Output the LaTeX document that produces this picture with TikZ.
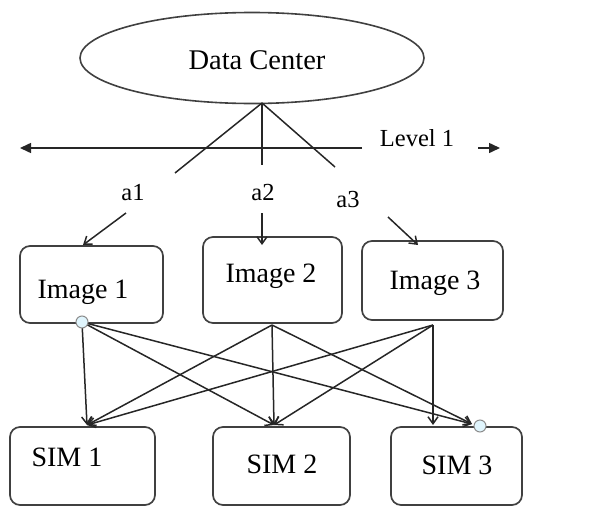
\documentclass[tikz,border=0pt]{standalone}
\usepackage{fontspec}
\setmainfont{Liberation Serif}
\usetikzlibrary{arrows.meta,shapes.geometric}
\begin{document}
\begin{tikzpicture}[x=1pt,y=-1pt,
  line width=1.5pt,
  box/.style={draw=black!75,line width=1.7pt,rounded corners=10pt,minimum width=#1},
  lbl/.style={font=\fontsize{28}{31}\selectfont,inner sep=0pt},
  big/.style={font=\fontsize{28.5}{31}\selectfont,inner sep=0pt},
  small/.style={font=\fontsize{24.5}{27}\selectfont,inner sep=0pt},
  wire/.style={draw=black!85,line width=1.5pt},
  arr/.style={wire,-{Straight Barb[length=7pt,width=10pt]}},
  dot/.style={circle,draw=black!45,fill=cyan!12,line width=1pt,minimum size=12pt,inner sep=0pt}]
\useasboundingbox (0,0) rectangle (599,506);

% data centre
\node[ellipse,draw=black!75,line width=1.6pt,minimum width=344pt,minimum height=91pt] (dc) at (252,58) {};
\node[big] (dct) at (257,60) {Data Center};
\coordinate (root) at (262,103);

% level axis
\coordinate (lvR) at (362,148);
\coordinate (lvL) at (20,148);
\draw[wire,-{Triangle[length=11pt,width=10pt]}] (lvR) -- (lvL);
\node[small] (lv) at (417,138) {Level 1};
\coordinate (raS) at (478,148);
\coordinate (raE) at (500,148);
\draw[wire,-{Triangle[length=11pt,width=10pt]}] (raS) -- (raE);

% branches
\coordinate (b1) at (175,173);
\coordinate (b2) at (262,165);
\coordinate (b3) at (335,167);
\draw[wire] (root) -- (b1);
\draw[wire] (root) -- (b2);
\draw[wire] (root) -- (b3);

\node[small] (a1) at (133,193) {a1};
\node[small] (a2) at (263,193) {a2};
\node[small] (a3) at (348,200) {a3};

% image boxes
\node[box=143pt,minimum height=77pt] (img1) at (91.5,284.5) {};
\node[box=139pt,minimum height=86pt] (img2) at (272.5,280) {};
\node[box=141pt,minimum height=79pt] (img3) at (432.5,280.5) {};
\node[lbl] (t1) at (83,292) {Image 1};
\node[lbl] (t2) at (271,276) {Image 2};
\node[lbl] (t3) at (435,283) {Image 3};

% arrows from the labels
\coordinate (p1) at (126,213);
\coordinate (q1) at (83,245);
\coordinate (p2) at (262,213);
\coordinate (q2) at (262,245);
\coordinate (p3) at (388,217);
\coordinate (q3) at (418,245);
\draw[arr] (p1) -- (q1);
\draw[arr] (p2) -- (q2);
\draw[arr] (p3) -- (q3);

% sim boxes
\node[box=145pt,minimum height=78pt] (sim1) at (82.5,466) {};
\node[box=137pt,minimum height=78pt] (sim2) at (281.5,466) {};
\node[box=131pt,minimum height=78pt] (sim3) at (456.5,466) {};
\node[lbl] (s1) at (67,457) {SIM 1};
\node[lbl] (s2) at (282,464) {SIM 2};
\node[lbl] (s3) at (457,465) {SIM 3};

% connection points
\coordinate (o1) at (82,322);
\coordinate (o2) at (272,325);
\coordinate (o3) at (433,325);
\coordinate (e1) at (87,425);
\coordinate (e2) at (274,425);
\coordinate (e3) at (433,425);
\coordinate (e4) at (472,424);

\draw[arr] (o1) -- (e1);
\draw[arr] (o1) -- (e2);
\draw[arr] (o1) -- (e4);
\draw[arr] (o2) -- (e1);
\draw[arr] (o2) -- (e2);
\draw[arr] (o2) -- (e4);
\draw[arr] (o3) -- (e1);
\draw[arr] (o3) -- (e2);
\draw[arr] (o3) -- (e3);

\node[dot] (d1) at (o1) {};
\node[dot] (d2) at (480,426) {};
\end{tikzpicture}
\end{document}
